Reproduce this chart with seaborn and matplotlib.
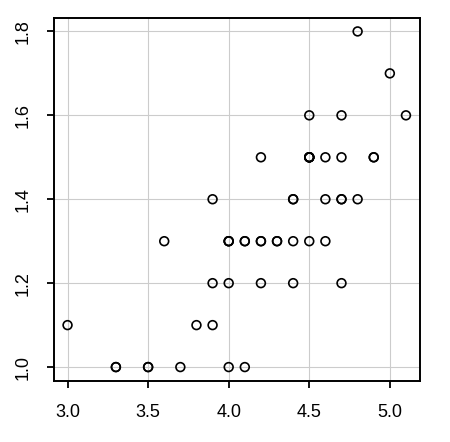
import numpy as np
import pandas as pd
import matplotlib
matplotlib.use("Agg")
import matplotlib.pyplot as plt
import seaborn as sns

petal_length = [4.7, 4.5, 4.9, 4.0, 4.6, 4.5, 4.7, 3.3, 4.6, 3.9,
                3.5, 4.2, 4.0, 4.7, 3.6, 4.4, 4.5, 4.1, 4.5, 3.9,
                4.8, 4.0, 4.9, 4.7, 4.3, 4.4, 4.8, 5.0, 4.5, 3.5,
                3.8, 3.7, 3.9, 5.1, 4.5, 4.5, 4.7, 4.4, 4.1, 4.0,
                4.4, 4.6, 4.0, 3.3, 4.2, 4.2, 4.2, 4.3, 3.0, 4.1]
petal_width = [1.4, 1.5, 1.5, 1.3, 1.5, 1.3, 1.6, 1.0, 1.3, 1.4,
               1.0, 1.5, 1.0, 1.4, 1.3, 1.4, 1.5, 1.0, 1.5, 1.1,
               1.8, 1.3, 1.5, 1.2, 1.3, 1.4, 1.4, 1.7, 1.5, 1.0,
               1.1, 1.0, 1.2, 1.6, 1.5, 1.6, 1.5, 1.3, 1.3, 1.3,
               1.2, 1.4, 1.2, 1.0, 1.3, 1.2, 1.3, 1.3, 1.1, 1.3]
xticks = [3.0, 3.5, 4.0, 4.5, 5.0]
yticks = [1.0, 1.2, 1.4, 1.6, 1.8]

df = pd.DataFrame({"Petal.Length": petal_length, "Petal.Width": petal_width})

sns.set_style("white")
plt.rcParams.update({'font.size': 13, 'font.family': ['Liberation Sans', 'DejaVu Sans'],
	'text.color': 'black', 'xtick.color': 'black', 'ytick.color': 'black',
	'xtick.labelcolor': 'black', 'ytick.labelcolor': 'black'})

fig = plt.figure(figsize=(4.5, 4.42), dpi=100)
ax = fig.add_axes([54/450, 1 - 380.5/442, (419.5-54)/450, (380.5-18)/442])

for t in xticks:
	ax.axvline(t, color="#cccccc", lw=0.8, zorder=0)
for t in yticks:
	ax.axhline(t, color="#cccccc", lw=0.8, zorder=0)

sns.scatterplot(x="Petal.Length", y="Petal.Width", data=df, ax=ax, marker="o",
	facecolor="none", edgecolor="black", linewidth=1.2, s=40, zorder=3)

xr = max(petal_length) - min(petal_length)
yr = max(petal_width) - min(petal_width)
ax.set_xlim(min(petal_length) - 0.04*xr, max(petal_length) + 0.04*xr)
ax.set_ylim(min(petal_width) - 0.04*yr, max(petal_width) + 0.04*yr)
ax.set_xticks(xticks, ["%.1f" % v for v in xticks])
ax.set_yticks(yticks, ["%.1f" % v for v in yticks])
plt.setp(ax.get_yticklabels(), rotation=90, va="center")
ax.tick_params(direction="out", length=5, width=1.3, labelsize=13, color="black", labelcolor="black")
ax.tick_params(axis="x", pad=12)
ax.tick_params(axis="y", pad=11)
ax.tick_params(axis="both", bottom=True, left=True)
ax.set_xlabel("")
ax.set_ylabel("")
for sp in ax.spines.values():
	sp.set_linewidth(1.4)
	sp.set_color("black")
	sp.set_visible(True)

plt.savefig("out.png", dpi=100)
